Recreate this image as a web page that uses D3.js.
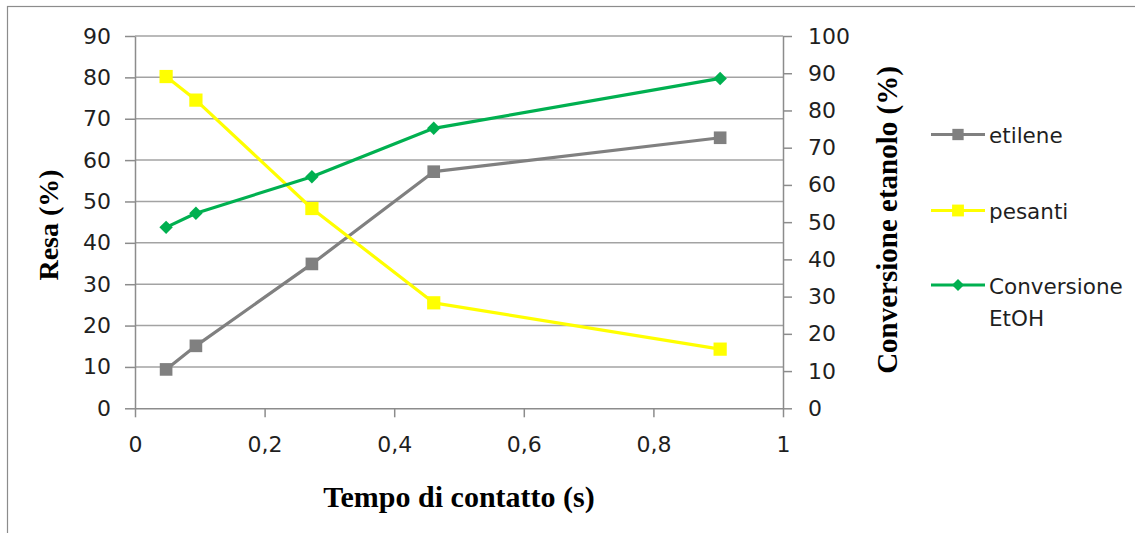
<!DOCTYPE html>
<html>
<head>
<meta charset="utf-8">
<script src="https://cdn.jsdelivr.net/npm/d3@7"></script>
<style>
  html, body { margin: 0; padding: 0; background: #fff; }
  svg { display: block; }
</style>
</head>
<body>
<svg id="chart" width="1135" height="533"></svg>
<script>
// ---- data ----
const tempo = [0.048, 0.094, 0.273, 0.461, 0.903];
const etilene = [9.4, 15.1, 34.9, 57.2, 65.4];
const pesanti = [80.2, 74.5, 48.3, 25.5, 14.3];
const conversione = [48.6, 52.4, 62.2, 75.2, 88.6];
const xTicks = [0, 0.2, 0.4, 0.6, 0.8, 1];
const yLeftTicks = [0, 10, 20, 30, 40, 50, 60, 70, 80, 90];
const yRightTicks = [0, 10, 20, 30, 40, 50, 60, 70, 80, 90, 100];
const seriesNames = ["etilene", "pesanti", "Conversione EtOH"];

// ---- layout ----
const svg = d3.select("#chart");
const L = 135, R = 783, T = 36, B = 408.3;
const x = d3.scaleLinear().domain([0, 1]).range([L, R]);
const yL = d3.scaleLinear().domain([0, 90]).range([B, T]);
const yR = d3.scaleLinear().domain([0, 100]).range([B, T]);

const gridCol = "#a3a3a3", axisCol = "#8c8c8c", textCol = "#1f1f1f";
const sansFont = "'DejaVu Sans', sans-serif";
const serifFont = "'Liberation Serif', 'Times New Roman', serif";

// outer border
svg.append("rect").attr("x", 7.5).attr("y", 6.5).attr("width", 1140).attr("height", 540)
  .attr("fill", "none").attr("stroke", axisCol).attr("stroke-width", 1.2);

// gridlines
svg.append("g").selectAll("line").data(yLeftTicks.filter(d => d > 0)).join("line")
  .attr("x1", L).attr("x2", R).attr("y1", d => yL(d)).attr("y2", d => yL(d))
  .attr("stroke", gridCol).attr("stroke-width", 1.5);

// axes
function styleAxis(g) {
  g.selectAll("path").attr("stroke", axisCol).attr("stroke-width", 1.5);
  g.selectAll("line").attr("stroke", axisCol).attr("stroke-width", 1.5);
  g.selectAll("text").attr("fill", textCol).style("font-family", sansFont).style("font-size", "22px");
}
const gx = svg.append("g").attr("transform", `translate(0,${B})`)
  .call(d3.axisBottom(x).tickValues(xTicks).tickSize(9).tickPadding(19).tickSizeOuter(0)
    .tickFormat(d => String(d).replace(".", ",")));
styleAxis(gx);
const gl = svg.append("g").attr("transform", `translate(${L},0)`)
  .call(d3.axisLeft(yL).tickValues(yLeftTicks).tickSize(10).tickPadding(14).tickSizeOuter(0));
styleAxis(gl);
const gr = svg.append("g").attr("transform", `translate(${R},0)`)
  .call(d3.axisRight(yR).tickValues(yRightTicks).tickSize(9).tickPadding(16).tickSizeOuter(0));
styleAxis(gr);

// axis titles
svg.append("text").attr("x", (L + R) / 2).attr("y", 507).attr("text-anchor", "middle")
  .style("font-family", serifFont).style("font-weight", "bold").style("font-size", "30px")
  .attr("fill", "#000").text("Tempo di contatto (s)");
svg.append("text").attr("transform", "translate(58,225) rotate(-90)").attr("text-anchor", "middle")
  .style("font-family", serifFont).style("font-weight", "bold").style("font-size", "28px")
  .attr("fill", "#000").text("Resa (%)");
svg.append("text").attr("transform", "translate(897,220) rotate(-90)").attr("text-anchor", "middle")
  .style("font-family", serifFont).style("font-weight", "bold").style("font-size", "29px")
  .attr("fill", "#000").text("Conversione etanolo (%)");

// series
const series = [
  { name: seriesNames[0], vals: etilene, y: yL, color: "#808080", sym: d3.symbolSquare, size: 160 },
  { name: seriesNames[1], vals: pesanti, y: yL, color: "#ffff00", sym: d3.symbolSquare, size: 175 },
  { name: seriesNames[2], vals: conversione, y: yR, color: "#00b050", sym: d3.symbolDiamond2, size: 115 }
];
series.forEach(s => {
  const pts = tempo.map((t, i) => [x(t), s.y(s.vals[i])]);
  svg.append("path").attr("d", d3.line()(pts)).attr("fill", "none")
    .attr("stroke", s.color).attr("stroke-width", 3.2).attr("stroke-linejoin", "round");
  svg.append("g").selectAll("path").data(pts).join("path")
    .attr("transform", d => `translate(${d[0]},${d[1]})`)
    .attr("d", d3.symbol().type(s.sym).size(s.size)).attr("fill", s.color);
});

// legend
const legY = [134.5, 210.5, 285];
series.forEach((s, i) => {
  const g = svg.append("g").attr("transform", `translate(0,${legY[i]})`);
  g.append("line").attr("x1", 931).attr("x2", 985).attr("y1", 0).attr("y2", 0)
    .attr("stroke", s.color).attr("stroke-width", 3);
  g.append("path").attr("transform", "translate(958,0)")
    .attr("d", d3.symbol().type(s.sym).size(s.size * 0.8)).attr("fill", s.color);
  const t = g.append("text").attr("x", 989).attr("y", 8.5).attr("fill", textCol)
    .style("font-family", sansFont).style("font-size", "21.5px");
  if (i === 2) {
    t.append("tspan").attr("x", 989).attr("dy", 0).text("Conversione");
    t.append("tspan").attr("x", 989).attr("dy", 32.5).text("EtOH");
  } else {
    t.text(s.name);
  }
});
</script>
</body>
</html>
